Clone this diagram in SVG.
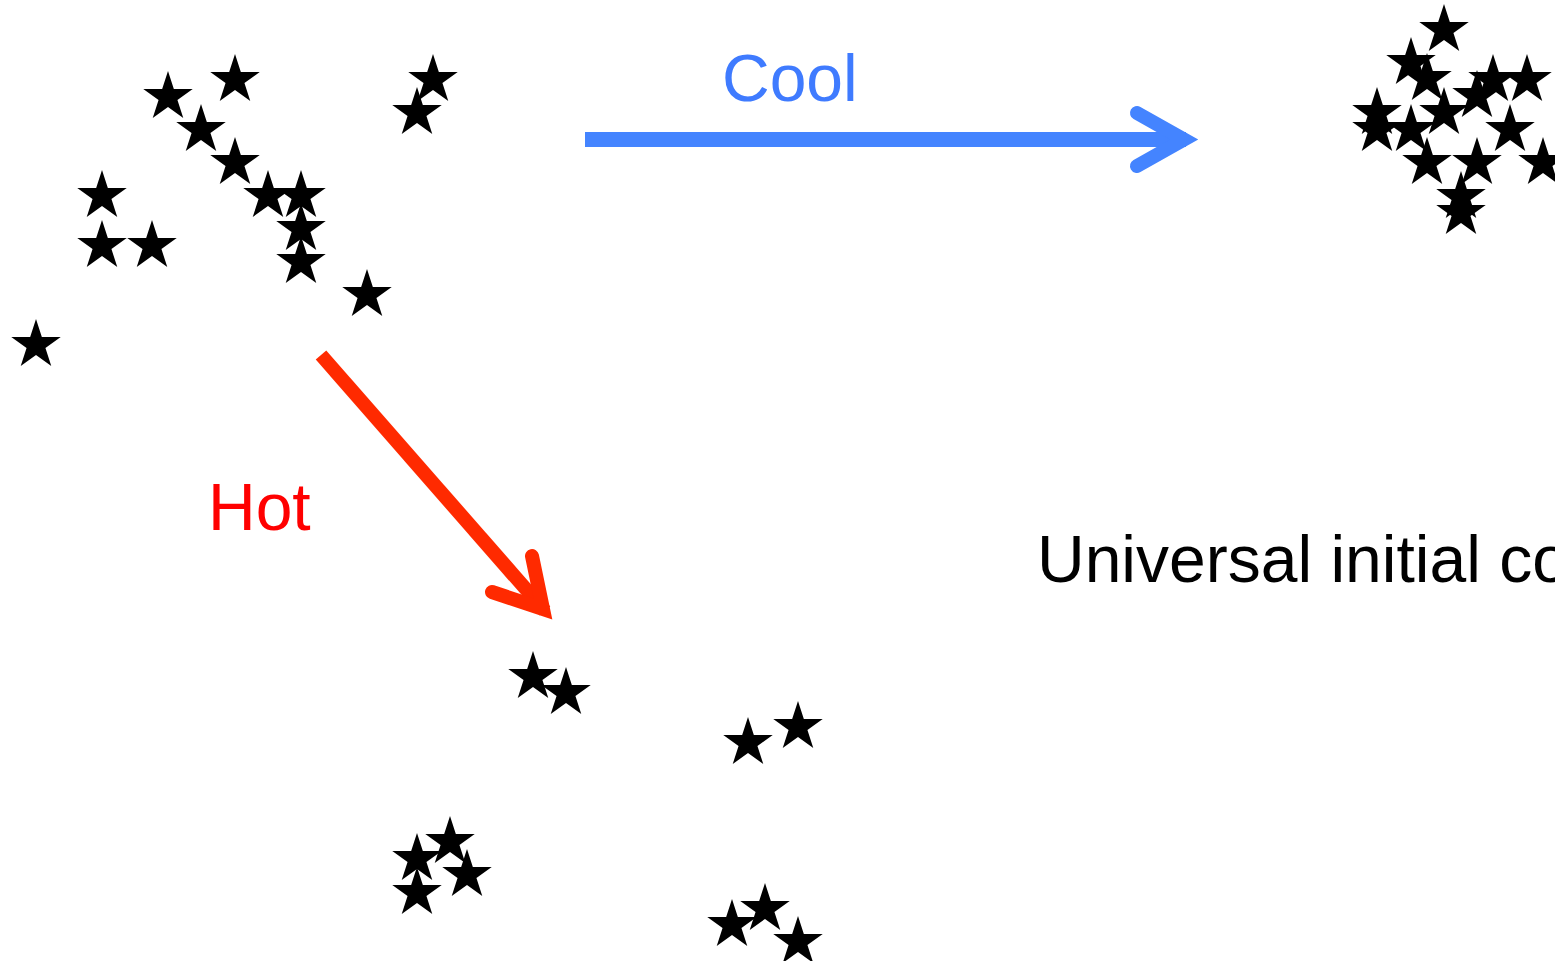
<svg xmlns="http://www.w3.org/2000/svg" xmlns:xlink="http://www.w3.org/1999/xlink" width="1555" height="961" viewBox="0 0 1555 961">
<style>
.lbl{font-family:"Liberation Sans",Arial,sans-serif;font-size:66px}
.star{fill:#000}
</style>
<defs>
<path id="star" d="M0,-26 L5.84,-8.03 L24.73,-8.03 L9.44,3.07 L15.28,21.03 L0,9.93 L-15.28,21.03 L-9.44,3.07 L-24.73,-8.03 L-5.84,-8.03 Z"/>
</defs>
<rect width="1555" height="961" fill="#fff"/>
<g id="cluster-initial" class="star">
<use href="#star" x="235" y="80"/>
<use href="#star" x="168" y="97"/>
<use href="#star" x="201" y="130"/>
<use href="#star" x="235" y="163"/>
<use href="#star" x="268" y="196"/>
<use href="#star" x="301" y="196"/>
<use href="#star" x="301" y="229"/>
<use href="#star" x="301" y="262"/>
<use href="#star" x="102" y="196"/>
<use href="#star" x="102" y="246"/>
<use href="#star" x="152" y="246"/>
<use href="#star" x="367" y="295"/>
<use href="#star" x="36" y="345"/>
<use href="#star" x="433" y="80"/>
<use href="#star" x="417" y="113"/>
</g>
<g id="cluster-cool" class="star">
<use href="#star" x="1444" y="30"/>
<use href="#star" x="1411" y="63"/>
<use href="#star" x="1427" y="79"/>
<use href="#star" x="1493" y="80"/>
<use href="#star" x="1527" y="80"/>
<use href="#star" x="1477" y="96"/>
<use href="#star" x="1377" y="113"/>
<use href="#star" x="1377" y="130"/>
<use href="#star" x="1411" y="130"/>
<use href="#star" x="1444" y="113"/>
<use href="#star" x="1510" y="130"/>
<use href="#star" x="1427" y="163"/>
<use href="#star" x="1477" y="163"/>
<use href="#star" x="1543" y="163"/>
<use href="#star" x="1461" y="197"/>
<use href="#star" x="1461" y="213"/>
</g>
<g id="cluster-hot" class="star">
<use href="#star" x="533" y="677"/>
<use href="#star" x="566" y="693"/>
<use href="#star" x="748" y="743"/>
<use href="#star" x="798" y="727"/>
<use href="#star" x="450" y="842"/>
<use href="#star" x="417" y="859"/>
<use href="#star" x="467" y="875"/>
<use href="#star" x="417" y="893"/>
<use href="#star" x="732" y="925"/>
<use href="#star" x="765" y="909"/>
<use href="#star" x="798" y="942"/>
</g>
<g id="connectors">
<g id="arrow-cool" fill="none" stroke="#4484FF">
<line x1="585" y1="139.5" x2="1186" y2="139.5" stroke-width="15"/>
<polyline points="1137,113 1184,139.5 1137,166" stroke-width="14" stroke-linecap="round" stroke-linejoin="miter"/>
</g>
<g id="arrow-hot" fill="none" stroke="#FF2A00">
<line x1="321" y1="355" x2="545" y2="611" stroke-width="14"/>
<polyline points="532,556 543,609 492,592" stroke-width="14" stroke-linecap="round" stroke-linejoin="miter"/>
</g>
</g>
<g id="label-cool"><text class="lbl" x="722" y="101" fill="#3F7BFF">Cool</text></g>
<g id="label-hot"><text class="lbl" x="208" y="529.5" fill="#FF0000">Hot</text></g>
<g id="label-universal"><text class="lbl" x="1037" y="581.5" fill="#000">Universal initial co</text></g>
</svg>
